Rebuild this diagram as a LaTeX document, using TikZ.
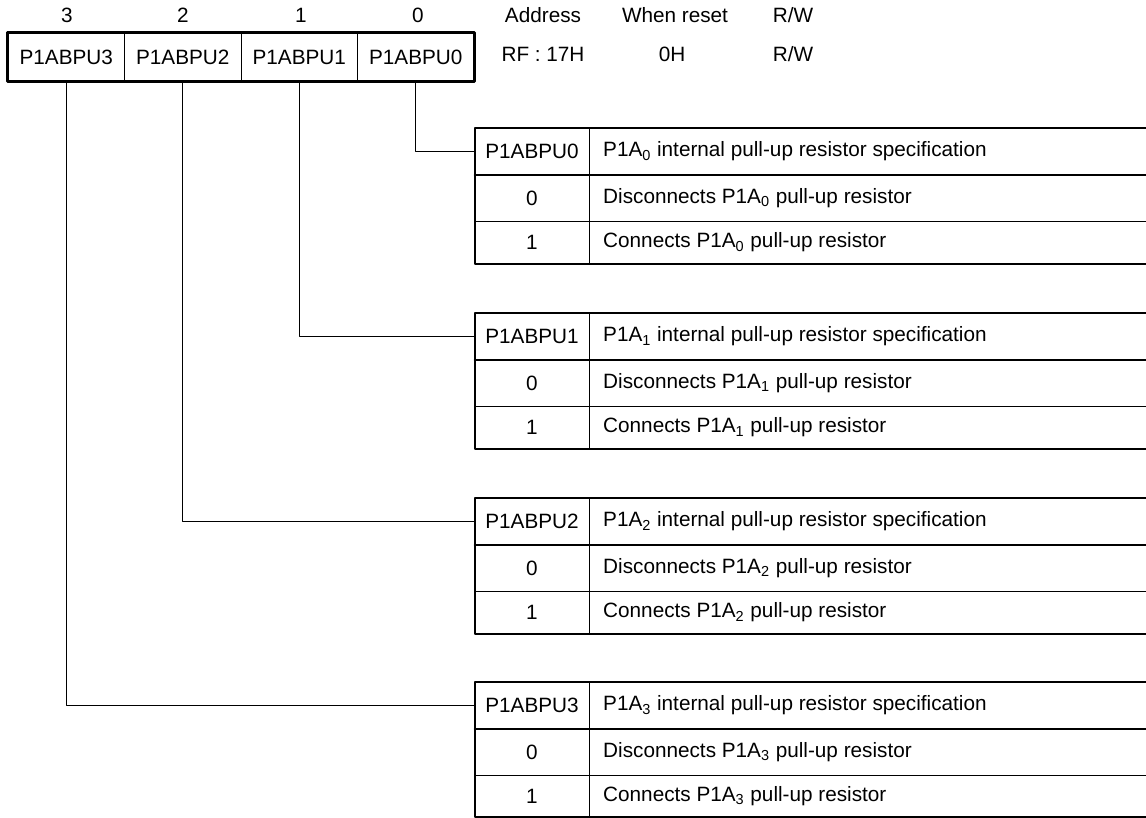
\documentclass[tikz,border=0pt]{standalone}
\usepackage{fontspec}
\setmainfont{Liberation Sans}
\usepackage{tikz}

\begin{document}
\begin{tikzpicture}[line cap=round,line join=round,x=0.02cm,y=-0.02cm,
	every node/.style={font=\fontsize{11.8}{14}\selectfont},
	regcell/.style={draw,line width=0.5pt,minimum width=2.33cm,minimum height=0.96cm,inner sep=0pt},
	keycell/.style={minimum width=2.28cm,minimum height=0.9cm,inner sep=0pt},
	thickrule/.style={line width=1.5pt},
	thinrule/.style={line width=0.5pt}]
		\useasboundingbox (0,0) rectangle (1146,818);
		% register
		\node[regcell] (r3) at (66.25,57) {P1ABPU3};
		\node[regcell] (r2) at (182.75,57) {P1ABPU2};
		\node[regcell] (r1) at (299.25,57) {P1ABPU1};
		\node[regcell] (r0) at (415.75,57) {P1ABPU0};
		\draw [thickrule] (r3.north west) rectangle (r0.south east);
		\node (n3) at (67,15) {3};
		\node (n2) at (183,15) {2};
		\node (n1) at (301,15) {1};
		\node (n0) at (418,15) {0};
		\node (addr) at (543,15) {Address};
		\node (rst) at (675,15) {When reset};
		\node (rw) at (793,15) {R/W};
		\node (addrv) at (543,54) {RF : 17H};
		\node (rstv) at (672,54) {0H};
		\node (rwv) at (793,54) {R/W};
		% bit 0
		\draw [thickrule] (475,128) rectangle (1160,264);
		\draw [thickrule] (475,175) -- (1160,175);
		\draw [thinrule] (475,221) -- (1160,221);
		\draw [thinrule] (589,128) -- (589,264);
		\node[keycell] (h0) at (532,151.5) {P1ABPU0};
		\node (h0a) at (532,198) {0};
		\node (h0b) at (532,242.5) {1};
		\node[anchor=west] (d0) at (597,151.5) {P1A\textsubscript{0} internal pull-up resistor specification};
		\node[anchor=west] (d0a) at (597,198) {Disconnects P1A\textsubscript{0} pull-up resistor};
		\node[anchor=west] (d0b) at (597,242.5) {Connects P1A\textsubscript{0} pull-up resistor};
		\draw [thinrule] (r0.south) |- (h0.west);
		% bit 1
		\draw [thickrule] (475,313) rectangle (1160,449);
		\draw [thickrule] (475,360) -- (1160,360);
		\draw [thinrule] (475,406) -- (1160,406);
		\draw [thinrule] (589,313) -- (589,449);
		\node[keycell] (h1) at (532,336.5) {P1ABPU1};
		\node (h1a) at (532,383) {0};
		\node (h1b) at (532,427.5) {1};
		\node[anchor=west] (d1) at (597,336.5) {P1A\textsubscript{1} internal pull-up resistor specification};
		\node[anchor=west] (d1a) at (597,383) {Disconnects P1A\textsubscript{1} pull-up resistor};
		\node[anchor=west] (d1b) at (597,427.5) {Connects P1A\textsubscript{1} pull-up resistor};
		\draw [thinrule] (r1.south) |- (h1.west);
		% bit 2
		\draw [thickrule] (475,498) rectangle (1160,634);
		\draw [thickrule] (475,545) -- (1160,545);
		\draw [thinrule] (475,591) -- (1160,591);
		\draw [thinrule] (589,498) -- (589,634);
		\node[keycell] (h2) at (532,521.5) {P1ABPU2};
		\node (h2a) at (532,568) {0};
		\node (h2b) at (532,612.5) {1};
		\node[anchor=west] (d2) at (597,521.5) {P1A\textsubscript{2} internal pull-up resistor specification};
		\node[anchor=west] (d2a) at (597,568) {Disconnects P1A\textsubscript{2} pull-up resistor};
		\node[anchor=west] (d2b) at (597,612.5) {Connects P1A\textsubscript{2} pull-up resistor};
		\draw [thinrule] (r2.south) |- (h2.west);
		% bit 3
		\draw [thickrule] (475,682) rectangle (1160,817);
		\draw [thickrule] (475,729) -- (1160,729);
		\draw [thinrule] (475,775) -- (1160,775);
		\draw [thinrule] (589,682) -- (589,817);
		\node[keycell] (h3) at (532,705.5) {P1ABPU3};
		\node (h3a) at (532,752) {0};
		\node (h3b) at (532,796) {1};
		\node[anchor=west] (d3) at (597,705.5) {P1A\textsubscript{3} internal pull-up resistor specification};
		\node[anchor=west] (d3a) at (597,752) {Disconnects P1A\textsubscript{3} pull-up resistor};
		\node[anchor=west] (d3b) at (597,796) {Connects P1A\textsubscript{3} pull-up resistor};
		\draw [thinrule] (r3.south) |- (h3.west);
	\end{tikzpicture}
\end{document}
